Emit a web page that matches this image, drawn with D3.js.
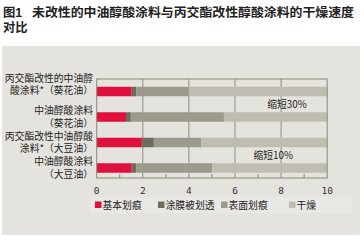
<!DOCTYPE html>
<html><head><meta charset="utf-8">
<script src="https://cdn.jsdelivr.net/npm/d3@7"></script>
<style>
html,body{margin:0;padding:0;background:#fff;}
svg{display:block;font-family:"Noto Sans CJK SC","Noto Sans",sans-serif;}
.title{font-family:"Liberation Sans","Noto Sans CJK SC",sans-serif;}
</style></head>
<body>
<script>
// ---- data ----
const categories = ["丙交酯改性的中油醇酸涂料*（葵花油）","中油醇酸涂料（葵花油）","丙交酯改性中油醇酸涂料*（大豆油）","中油醇酸涂料（大豆油）"];
const labelLines = [["丙交酯改性的中油醇","酸涂料*（葵花油）"],["中油醇酸涂料","（葵花油）"],["丙交酯改性中油醇酸","涂料*（大豆油）"],["中油醇酸涂料","（大豆油）"]];
const seriesNames = ["基本划痕","涂膜被划透","表面划痕","干燥"];
// cumulative end times (h) for each stage
const basicScratch = [1.52, 1.27, 1.96, 1.52];
const filmThrough  = [1.71, 1.48, 2.48, 1.71];
const surfaceScratch = [4.0, 5.52, 4.53, 5.01];
const dry = [10, 10, 10, 10];
const tickValues = [0, 2, 4, 6, 8, 10];
const minorTicks = [1, 3, 5, 7, 9];
const annotations = [{text:"缩短30%", x:7.4, between:[0,1]}, {text:"缩短10%", x:6.8, between:[2,3]}];
const titleNumber = "图1";
const titleLines = ["未改性的中油醇酸涂料与丙交酯改性醇酸涂料的干燥速度","对比"];
const colors = ["#e0103c","#6d6c5e","#9c9a8c","#bfbdb1"];

const W = 364, H = 242;
const svg = d3.select("body").append("svg").attr("width", W).attr("height", H);

// title
svg.append("text").attr("class","title").attr("x", 3).attr("y", 16.8).attr("font-size", 12.3).attr("font-weight","bold")
  .attr("fill","#222").text(titleNumber);
svg.append("text").attr("class","title").attr("x", 32).attr("y", 16.8).attr("font-size", 12.3).attr("font-weight","bold")
  .attr("fill","#222").attr("textLength", 322).attr("lengthAdjust","spacingAndGlyphs").text(titleLines[0]);
svg.append("text").attr("class","title").attr("x", 3).attr("y", 31.8).attr("font-size", 12.3).attr("font-weight","bold")
  .attr("fill","#222").attr("textLength", 24.5).attr("lengthAdjust","spacingAndGlyphs").text(titleLines[1]);

// panel
svg.append("rect").attr("x", 2).attr("y", 46).attr("width", 358).attr("height", 189).attr("fill", "#e5e3de");

const x = d3.scaleLinear().domain([0,10]).range([96.7, 327.2]);
const y = d3.scalePoint().domain(categories).range([91.5, 168]);
const plotTop = 79, plotBottom = 178;
const barH = 9.5;

// gridlines
const g = svg.append("g");
g.selectAll("line.grid").data(tickValues.filter(v=>v>0 && v<10)).join("line")
  .attr("x1", d=>x(d)).attr("x2", d=>x(d)).attr("y1", plotTop).attr("y2", plotBottom)
  .attr("stroke", "#8e8c7e").attr("stroke-width", 1);

// bars
const stacks = categories.map((c,i)=>{
  const ends = [basicScratch[i], filmThrough[i], surfaceScratch[i], dry[i]];
  return ends.map((e,k)=>({cat:c, k, x0: k===0?0:ends[k-1], x1:e}));
}).flat();
g.selectAll("rect.bar").data(stacks).join("rect")
  .attr("x", d=>x(d.x0)).attr("width", d=>x(d.x1)-x(d.x0))
  .attr("y", d=>y(d.cat)-barH/2).attr("height", barH)
  .attr("fill", d=>colors[d.k]);

// frame
svg.append("rect").attr("x", x(0)).attr("y", plotTop).attr("width", x(10)-x(0)).attr("height", plotBottom-plotTop)
  .attr("fill","none").attr("stroke","#8a887a").attr("stroke-width",1);

// minor ticks
svg.selectAll("line.minor").data(minorTicks).join("line")
  .attr("x1", d=>x(d)).attr("x2", d=>x(d)).attr("y1", plotBottom-4).attr("y2", plotBottom)
  .attr("stroke", "#8a887a");

// x tick labels
svg.selectAll("text.tick").data(tickValues).join("text")
  .attr("x", d=>x(d)).attr("y", 194).attr("text-anchor","middle")
  .attr("font-size", 9.5).attr("fill", "#333").attr("font-family","DejaVu Sans Mono, monospace")
  .text(d=>d);

// y labels
categories.forEach((c,i)=>{
  const shift = i===0 ? -7 : 0;
  const cy = y(c) + shift;
  svg.selectAll(null).data(labelLines[i]).join("text")
    .attr("x", 93).attr("y", (d,j)=> cy + (j-0.5)*12.5 + 3.5)
    .attr("text-anchor","end").attr("font-size", 9.8).attr("fill","#222")
    .text(d=>d);
});

// annotations
svg.selectAll("text.ann").data(annotations).join("text")
  .attr("x", d=>x(d.x)).attr("y", d=>(y(categories[d.between[0]])+y(categories[d.between[1]]))/2 + 4)
  .attr("font-size", 9.8).attr("fill","#222").text(d=>d.text);

// legend
svg.append("rect").attr("x", 90).attr("y", 197).attr("width", 262).attr("height", 16).attr("fill", "#e9e8e4");
const legendX = [95, 158, 221, 289];
const lg = svg.selectAll("g.leg").data(seriesNames).join("g").attr("transform",(d,i)=>`translate(${legendX[i]},205)`);
lg.append("rect").attr("x",0).attr("y",-3.5).attr("width",6.5).attr("height",6.5).attr("fill",(d,i)=>colors[i]);
lg.append("text").attr("x", 7.5).attr("y", 3.8).attr("font-size", 9.8).attr("fill","#222").text(d=>d);
</script>
</body></html>
